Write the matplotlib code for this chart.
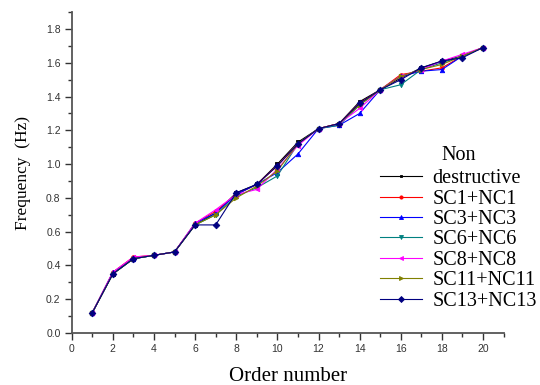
import matplotlib
matplotlib.use("Agg")
import matplotlib.pyplot as plt
from matplotlib.ticker import MultipleLocator

order = list(range(1, 21))

non_destructive = [0.12, 0.35, 0.44, 0.46, 0.48, 0.64, 0.71, 0.83, 0.88, 1.00,
                   1.13, 1.21, 1.24, 1.37, 1.44, 1.51, 1.57, 1.61, 1.64, 1.69]
sc1_nc1 = [0.12, 0.36, 0.45, 0.46, 0.48, 0.65, 0.72, 0.82, 0.88, 0.99,
           1.12, 1.21, 1.24, 1.36, 1.44, 1.53, 1.55, 1.57, 1.64, 1.69]
sc3_nc3 = [0.12, 0.36, 0.44, 0.46, 0.48, 0.65, 0.71, 0.82, 0.88, 0.95,
           1.06, 1.21, 1.23, 1.30, 1.44, 1.52, 1.55, 1.56, 1.64, 1.69]
sc6_nc6 = [0.12, 0.35, 0.44, 0.46, 0.48, 0.64, 0.70, 0.81, 0.86, 0.93,
           1.12, 1.21, 1.23, 1.35, 1.44, 1.47, 1.56, 1.60, 1.64, 1.69]
sc8_nc8 = [0.12, 0.36, 0.45, 0.46, 0.48, 0.65, 0.73, 0.82, 0.85, 0.97,
           1.11, 1.21, 1.24, 1.33, 1.44, 1.52, 1.56, 1.61, 1.65, 1.69]
sc11_nc11 = [0.12, 0.35, 0.44, 0.46, 0.48, 0.64, 0.70, 0.80, 0.87, 0.96,
             1.12, 1.21, 1.24, 1.35, 1.44, 1.52, 1.56, 1.59, 1.64, 1.69]
sc13_nc13 = [0.12, 0.35, 0.44, 0.46, 0.48, 0.64, 0.64, 0.83, 0.88, 0.99,
             1.12, 1.21, 1.24, 1.36, 1.44, 1.50, 1.57, 1.61, 1.63, 1.69]

series = [
    ("destructive", non_destructive, "#000000", "s", 2.2),
    ("SC1+NC1", sc1_nc1, "#FF0000", "o", 2.6),
    ("SC3+NC3", sc3_nc3, "#0000FF", "^", 3.2),
    ("SC6+NC6", sc6_nc6, "#008080", "v", 3.2),
    ("SC8+NC8", sc8_nc8, "#FF00FF", "<", 3.2),
    ("SC11+NC11", sc11_nc11, "#808000", ">", 3.2),
    ("SC13+NC13", sc13_nc13, "#000080", "D", 3.4),
]

serif = ["Liberation Serif", "DejaVu Serif"]
sans = ["Liberation Sans", "DejaVu Sans"]

fig = plt.figure(figsize=(5.4, 3.85), dpi=100)
ax = fig.add_axes([0.1328, 0.135, 0.7998, 0.8336])

for label, vals, color, marker, ms in series:
    ax.plot(order, vals, color=color, marker=marker, markersize=ms,
            markeredgewidth=0.6, linewidth=0.8, label=label)

ax.set_xlim(0, 21)
ax.set_ylim(0, 1.9)
ax.xaxis.set_minor_locator(MultipleLocator(1))
ax.yaxis.set_minor_locator(MultipleLocator(0.1))
ax.set_xticks(range(0, 21, 2))
ax.set_yticks([round(0.2 * i, 1) for i in range(10)])
ax.set_yticklabels([f"{0.2 * i:.1f}" for i in range(10)])

for side in ("top", "right"):
    ax.spines[side].set_visible(False)
for side in ("left", "bottom"):
    ax.spines[side].set_color("#555555")
    ax.spines[side].set_linewidth(1.3)

ax.tick_params(which="major", direction="out", length=5, width=1,
               color="#333333", labelsize=7.5, labelcolor="#333333", pad=3)
ax.tick_params(which="minor", direction="out", length=3, width=1,
               color="#333333")
for lab in ax.get_xticklabels() + ax.get_yticklabels():
    lab.set_fontfamily(sans)

ax.set_xlabel("Order number", fontsize=15, family=serif, labelpad=9)
ax.set_ylabel("Frequency  (Hz)", fontsize=12.5, family=serif, labelpad=11)

leg = fig.legend(loc="upper left", bbox_to_anchor=(0.7037, 0.621),
                 frameon=False, numpoints=1, handlelength=2.1,
                 handletextpad=0.5, labelspacing=0.065, borderpad=0,
                 borderaxespad=0, markerscale=0.9,
                 prop={"family": serif, "size": 14.5},
                 title="Non",
                 title_fontproperties={"family": serif, "size": 14.5})
leg._legend_box.sep = 3

fig.savefig("out.png", dpi=100)
